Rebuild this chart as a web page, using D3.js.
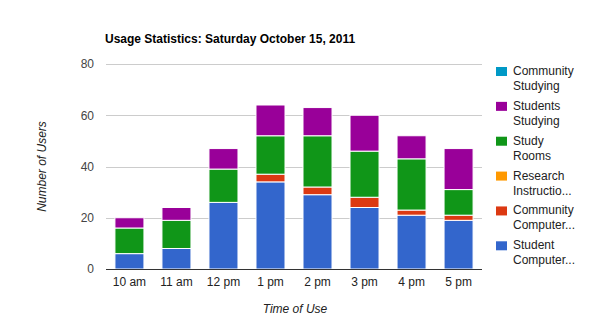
<!DOCTYPE html>
<html>
<head>
<meta charset="utf-8">
<script src="https://cdn.jsdelivr.net/npm/d3@7/dist/d3.min.js"></script>
<style>
  html, body { margin: 0; padding: 0; background: #fff; }
  svg { display: block; font-family: "Liberation Sans", Arial, sans-serif; }
</style>
</head>
<body>
<svg id="chart" width="590" height="332"></svg>
<script>
// Hourly usage counts, one array per series (stacked bottom to top)
const categories = ["10 am", "11 am", "12 pm", "1 pm", "2 pm", "3 pm", "4 pm", "5 pm"];
const studentComputers   = [6, 8, 26, 34, 29, 24, 21, 19];
const communityComputers = [0, 0, 0, 3, 3, 4, 2, 2];
const researchInstruction = [0, 0, 0, 0, 0, 0, 0, 0];
const studyRooms         = [10, 11, 13, 15, 20, 18, 20, 10];
const studentsStudying   = [4, 5, 8, 12, 11, 14, 9, 16];
const communityStudying  = [0, 0, 0, 0, 0, 0, 0, 0];
const yTicks = [0, 20, 40, 60, 80];

const series = [
  { key: "Student Computer...", values: studentComputers, color: "#3366cc" },
  { key: "Community Computer...", values: communityComputers, color: "#dc3912" },
  { key: "Research Instructio...", values: researchInstruction, color: "#ff9900" },
  { key: "Study Rooms", values: studyRooms, color: "#109618" },
  { key: "Students Studying", values: studentsStudying, color: "#990099" },
  { key: "Community Studying", values: communityStudying, color: "#0099c6" }
];

const svg = d3.select("#chart");
const plot = { left: 106, right: 482, top: 64, bottom: 269 };

const x = d3.scaleBand().domain(categories).range([plot.left, plot.right]).paddingInner(0.383).paddingOuter(0.19);
const y = d3.scaleLinear().domain([0, 80]).range([plot.bottom, plot.top]);

// Gridlines
svg.append("g").selectAll("line").data(yTicks.filter(d => d > 0)).join("line")
  .attr("x1", plot.left).attr("x2", plot.right)
  .attr("y1", d => Math.round(y(d)) + 0.5).attr("y2", d => Math.round(y(d)) + 0.5)
  .attr("stroke", "#cccccc").attr("stroke-width", 1);

// Stacked bars
const rows = categories.map((c, i) => {
  const r = { cat: c };
  series.forEach(s => { r[s.key] = s.values[i]; });
  return r;
});
const stacked = d3.stack().keys(series.map(s => s.key))(rows);

svg.append("g").selectAll("g").data(stacked).join("g")
  .attr("fill", (d, i) => series[i].color)
  .selectAll("rect").data(d => d.filter(p => p[1] > p[0])).join("rect")
  .attr("x", d => x(d.data.cat))
  .attr("width", x.bandwidth())
  .attr("y", d => y(d[1]))
  .attr("height", d => y(d[0]) - y(d[1]))
  .attr("stroke", "#ffffff").attr("stroke-width", 1);

// Baseline
svg.append("line")
  .attr("x1", plot.left).attr("x2", plot.right)
  .attr("y1", plot.bottom + 0.5).attr("y2", plot.bottom + 0.5)
  .attr("stroke", "#333333").attr("stroke-width", 1);

// Y axis labels
const yAxis = d3.axisLeft(y).tickValues(yTicks).tickSize(0).tickPadding(0);
svg.append("g").attr("transform", `translate(${plot.left - 12},0)`).call(yAxis)
  .call(g => g.select(".domain").remove())
  .call(g => g.selectAll("text").attr("font-size", 12).attr("fill", "#444444")
    .attr("font-family", "'Liberation Sans', Arial, sans-serif"));

// X axis labels
const xAxis = d3.axisBottom(x).tickSize(0).tickPadding(0);
svg.append("g").attr("transform", `translate(0,${plot.bottom + 8})`).call(xAxis)
  .call(g => g.select(".domain").remove())
  .call(g => g.selectAll("text").attr("font-size", 12).attr("fill", "#222222")
    .attr("font-family", "'Liberation Sans', Arial, sans-serif"));

// Title
svg.append("text").attr("x", 105).attr("y", 43)
  .attr("font-size", 12).attr("font-weight", "bold").attr("fill", "#000")
  .text("Usage Statistics: Saturday October 15, 2011");

// Axis titles
svg.append("text").attr("x", (plot.left + plot.right) / 2 + 1).attr("y", 313)
  .attr("text-anchor", "middle").attr("font-size", 12).attr("font-style", "italic").attr("fill", "#222")
  .text("Time of Use");
svg.append("text")
  .attr("transform", `translate(46,${(plot.top + plot.bottom) / 2}) rotate(-90)`)
  .attr("text-anchor", "middle").attr("font-size", 12).attr("font-style", "italic").attr("fill", "#222")
  .text("Number of Users");

// Legend, listed top-down in reverse stack order
const legendItems = series.slice().reverse();
const legend = svg.append("g").selectAll("g").data(legendItems).join("g")
  .attr("transform", (d, i) => `translate(496,${67 + i * 34.86})`);
legend.append("rect").attr("width", 11).attr("height", 9).attr("fill", d => d.color);
legend.each(function(d) {
  const words = d.key.split(" ");
  const t = d3.select(this).append("text").attr("font-size", 12).attr("fill", "#222");
  words.forEach((w, j) => {
    t.append("tspan").attr("x", 17).attr("y", 8 + j * 15).text(w);
  });
});
</script>
</body>
</html>
